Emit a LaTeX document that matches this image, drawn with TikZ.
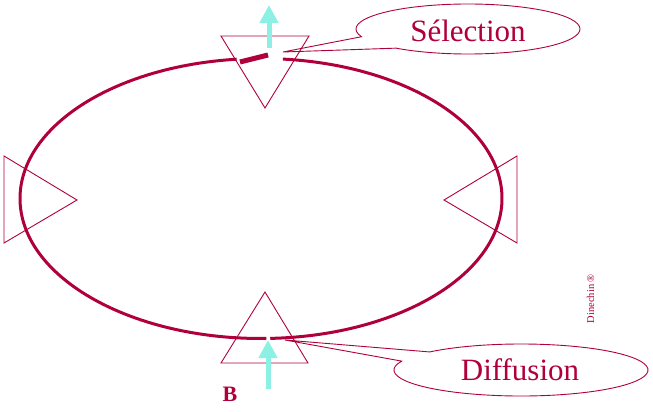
\documentclass[tikz,border=0pt]{standalone}
\usepackage{fontspec}
\setmainfont{Liberation Serif}
\usetikzlibrary{arrows.meta,calc}
\definecolor{crim}{RGB}{176,0,60}
\definecolor{aqua}{RGB}{140,240,228}
\begin{document}
\begin{tikzpicture}[x=1pt,y=-1pt,
  tri/.style={draw=crim, line width=0.9pt, line join=miter},
  ring/.style={draw=crim, line width=3pt},
  callout/.style={draw=crim, line width=0.9pt, line join=miter},
  beam/.style={draw=aqua, line width=5pt, -{Triangle[width=18pt,length=18pt]}},
  lbl/.style={text=crim, inner sep=0pt, font=\fontsize{31}{31}\selectfont, anchor=base},
]
\useasboundingbox (0,0) rectangle (653,412);
\coordinate (O) at (261,198.5);
% the ring
\draw[ring] ($(O)+(275.2:241 and 140)$) arc[start angle=275.2, end angle=447.8, x radius=241, y radius=140];
\draw[ring] ($(O)+(448.7:241 and 140)$) arc[start angle=448.7, end angle=624.2, x radius=241, y radius=140];
% selection mirror
\draw[crim, line width=5pt] (240,62) -- (268,55);
% triangles
\draw[tri] (221,36) -- (309,36) -- (265,108) -- cycle;
\draw[tri] (265,292) -- (308,363) -- (221,363) -- cycle;
\draw[tri] (4,156) -- (77,200) -- (4,243) -- cycle;
\draw[tri] (517,156) -- (444,200) -- (517,243) -- cycle;
% beams
\coordinate (ta) at (269,48);
\coordinate (tb) at (269,5);
\coordinate (ba) at (268,389);
\coordinate (bb) at (268,340);
\draw[beam] (ta) -- (tb);
\draw[beam] (ba) -- (bb);
% callouts
\coordinate (S) at (468,29);
\coordinate (D) at (521,370);
\draw[callout] (283,52) -- ($(S)+(162:112 and 25)$) arc[start angle=162, end angle=490, x radius=112, y radius=25] -- cycle;
\draw[callout] (285,340) -- ($(D)+(200:127 and 26)$) arc[start angle=200, end angle=-136, x radius=127, y radius=26] -- cycle;
% texts
\node[lbl] (sel) at (468,42) {Sélection};
\node[lbl] (dif) at (520,380) {Diffusion};
\node[lbl, font=\fontsize{22}{22}\selectfont\bfseries] (b) at (230,401) {B};
\node[text=crim, inner sep=0pt, rotate=90, anchor=base, font=\fontsize{10.5}{10.5}\selectfont] (sig) at (594,299) {Dinechin\,\textregistered};
\end{tikzpicture}
\end{document}
